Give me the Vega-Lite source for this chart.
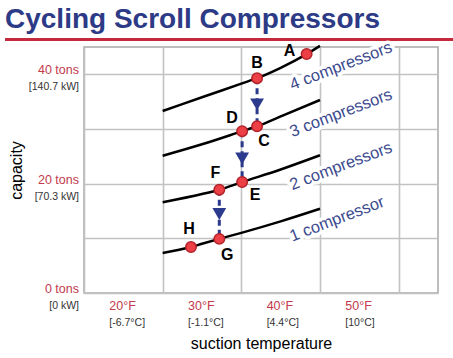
{
  "$schema": "https://vega.github.io/schema/vega-lite/v6.json",
  "width": 354,
  "height": 246,
  "autosize": "none",
  "padding": {"left": 84, "top": 47, "right": 15, "bottom": 65},
  "background": "white",
  "title": {"text": "Cycling Scroll Compressors", "anchor": "start", "frame": "group", "dx": -79, "dy": 29, "offset": 11, "baseline": "alphabetic", "fontSize": 28, "font": "Liberation Sans", "fontWeight": "bold", "color": "#2d3a86"},
  "config": {"view": {"stroke": "#a8a8a8", "strokeWidth": 1.5}},
  "datasets": {
    "curves": [
      {"series": "4", "temp": 25, "tons": 33.3}, {"series": "4", "temp": 30, "tons": 35.8}, {"series": "4", "temp": 35, "tons": 38.3}, {"series": "4", "temp": 37, "tons": 39.3}, {"series": "4", "temp": 40, "tons": 41.2}, {"series": "4", "temp": 43.3, "tons": 43.7}, {"series": "4", "temp": 45, "tons": 45.2},
      {"series": "3", "temp": 25, "tons": 25.1}, {"series": "3", "temp": 30, "tons": 27.2}, {"series": "3", "temp": 35.1, "tons": 29.6}, {"series": "3", "temp": 37, "tons": 30.5}, {"series": "3", "temp": 40, "tons": 32.3}, {"series": "3", "temp": 45, "tons": 35.3},
      {"series": "2", "temp": 25, "tons": 16.6}, {"series": "2", "temp": 30, "tons": 18.1}, {"series": "2", "temp": 32.2, "tons": 18.9}, {"series": "2", "temp": 35.1, "tons": 20.3}, {"series": "2", "temp": 40, "tons": 22.6}, {"series": "2", "temp": 45, "tons": 25.2},
      {"series": "1", "temp": 25, "tons": 7.3}, {"series": "1", "temp": 28.6, "tons": 8.4}, {"series": "1", "temp": 30, "tons": 9.0}, {"series": "1", "temp": 32.2, "tons": 9.9}, {"series": "1", "temp": 35, "tons": 11.0}, {"series": "1", "temp": 40, "tons": 13.1}, {"series": "1", "temp": 45, "tons": 15.4}
    ],
    "points": [
      {"label": "A", "temp": 43.3, "tons": 43.7},
      {"label": "B", "temp": 37, "tons": 39.3},
      {"label": "C", "temp": 37, "tons": 30.5},
      {"label": "D", "temp": 35.1, "tons": 29.6},
      {"label": "E", "temp": 35.1, "tons": 20.3},
      {"label": "F", "temp": 32.2, "tons": 18.9},
      {"label": "G", "temp": 32.2, "tons": 9.9},
      {"label": "H", "temp": 28.6, "tons": 8.4}
    ],
    "arrows": [
      {"temp": 37, "from": 39.3, "to": 30.5, "tri": 34.5},
      {"temp": 35.1, "from": 29.6, "to": 20.3, "tri": 24.6},
      {"temp": 32.2, "from": 18.9, "to": 9.9, "tri": 14.45}
    ],
    "names": [
      {"text": "4 compressors", "temp": 47.67, "tons": 41.5},
      {"text": "3 compressors", "temp": 47.67, "tons": 32.9},
      {"text": "2 compressors", "temp": 47.67, "tons": 23.2},
      {"text": "1 compressor", "temp": 47.16, "tons": 13.5}
    ],
    "ylabels": [
      {"tons": 0, "a": "0 tons", "b": "[0 kW]"},
      {"tons": 20, "a": "20 tons", "b": "[70.3 kW]"},
      {"tons": 40, "a": "40 tons", "b": "[140.7 kW]"}
    ],
    "xlabels": [
      {"temp": 20, "a": "20°F", "b": "[-6.7°C]"},
      {"temp": 30, "a": "30°F", "b": "[-1.1°C]"},
      {"temp": 40, "a": "40°F", "b": "[4.4°C]"},
      {"temp": 50, "a": "50°F", "b": "[10°C]"}
    ],
    "one": [{"x1": 4.96, "x2": 62, "y": 46.37}]
  },
  "layer": [
    {
      "data": {"name": "curves"},
      "mark": {"type": "line", "color": "black", "strokeWidth": 2.5, "interpolate": "monotone"},
      "encoding": {
        "x": {"field": "temp", "type": "quantitative", "scale": {"domain": [15, 60], "nice": false, "zero": false},
          "axis": {"values": [15, 20, 25, 30, 35, 40, 45, 50, 55, 60], "grid": true, "gridColor": "#c2c2c2", "gridWidth": 1.6, "labels": false, "ticks": false, "domain": false,
            "title": "suction temperature", "titleFont": "Liberation Sans", "titleFontSize": 16, "titleFontWeight": "normal", "titleColor": "black", "titleX": 177, "titleY": 50, "titleAlign": "center", "titleBaseline": "middle"}},
        "y": {"field": "tons", "type": "quantitative", "scale": {"domain": [0, 45], "nice": false},
          "axis": {"values": [0, 5, 10, 15, 20, 25, 30, 35, 40, 45], "grid": true, "gridColor": "#c2c2c2", "gridWidth": 1.6, "labels": false, "ticks": false, "domain": false,
            "title": "capacity", "titleFont": "Liberation Sans", "titleFontSize": 16, "titleFontWeight": "normal", "titleColor": "black", "titleX": -68, "titleY": 123, "titleAngle": -90, "titleAlign": "center", "titleBaseline": "middle"}},
        "detail": {"field": "series"}
      }
    },
    {
      "data": {"name": "one"},
      "mark": {"type": "rule", "color": "#c42a3c", "strokeWidth": 3},
      "encoding": {"x": {"field": "x1", "type": "quantitative"}, "x2": {"field": "x2"}, "y": {"field": "y", "type": "quantitative"}}
    },
    {
      "data": {"name": "arrows"},
      "mark": {"type": "rule", "color": "#2b3a8c", "strokeWidth": 3, "strokeDash": [6, 4]},
      "encoding": {"x": {"field": "temp", "type": "quantitative"}, "y": {"field": "from", "type": "quantitative"}, "y2": {"field": "to"}}
    },
    {
      "data": {"name": "arrows"},
      "mark": {"type": "point", "shape": "triangle-down", "filled": true, "color": "#2b3a8c", "size": 190, "opacity": 1},
      "encoding": {"x": {"field": "temp", "type": "quantitative"}, "y": {"field": "tri", "type": "quantitative"}}
    },
    {
      "data": {"name": "points"},
      "mark": {"type": "circle", "fill": "#ec3f46", "stroke": "#b3232a", "strokeWidth": 1.5, "size": 110, "opacity": 1},
      "encoding": {"x": {"field": "temp", "type": "quantitative"}, "y": {"field": "tons", "type": "quantitative"}}
    },
    {"data": {"name": "points"}, "transform": [{"filter": "datum.label == 'A'"}], "mark": {"type": "text", "font": "Liberation Sans", "fontWeight": "bold", "fontSize": 16, "color": "black", "baseline": "middle", "dx": -17, "dy": -3}, "encoding": {"x": {"field": "temp", "type": "quantitative"}, "y": {"field": "tons", "type": "quantitative"}, "text": {"field": "label"}}},
    {"data": {"name": "points"}, "transform": [{"filter": "datum.label == 'B'"}], "mark": {"type": "text", "font": "Liberation Sans", "fontWeight": "bold", "fontSize": 16, "color": "black", "baseline": "middle", "dx": 0, "dy": -15}, "encoding": {"x": {"field": "temp", "type": "quantitative"}, "y": {"field": "tons", "type": "quantitative"}, "text": {"field": "label"}}},
    {"data": {"name": "points"}, "transform": [{"filter": "datum.label == 'C'"}], "mark": {"type": "text", "font": "Liberation Sans", "fontWeight": "bold", "fontSize": 16, "color": "black", "baseline": "middle", "dx": 7, "dy": 15}, "encoding": {"x": {"field": "temp", "type": "quantitative"}, "y": {"field": "tons", "type": "quantitative"}, "text": {"field": "label"}}},
    {"data": {"name": "points"}, "transform": [{"filter": "datum.label == 'D'"}], "mark": {"type": "text", "font": "Liberation Sans", "fontWeight": "bold", "fontSize": 16, "color": "black", "baseline": "middle", "dx": -10, "dy": -13}, "encoding": {"x": {"field": "temp", "type": "quantitative"}, "y": {"field": "tons", "type": "quantitative"}, "text": {"field": "label"}}},
    {"data": {"name": "points"}, "transform": [{"filter": "datum.label == 'E'"}], "mark": {"type": "text", "font": "Liberation Sans", "fontWeight": "bold", "fontSize": 16, "color": "black", "baseline": "middle", "dx": 13, "dy": 13}, "encoding": {"x": {"field": "temp", "type": "quantitative"}, "y": {"field": "tons", "type": "quantitative"}, "text": {"field": "label"}}},
    {"data": {"name": "points"}, "transform": [{"filter": "datum.label == 'F'"}], "mark": {"type": "text", "font": "Liberation Sans", "fontWeight": "bold", "fontSize": 16, "color": "black", "baseline": "middle", "dx": -4, "dy": -17}, "encoding": {"x": {"field": "temp", "type": "quantitative"}, "y": {"field": "tons", "type": "quantitative"}, "text": {"field": "label"}}},
    {"data": {"name": "points"}, "transform": [{"filter": "datum.label == 'G'"}], "mark": {"type": "text", "font": "Liberation Sans", "fontWeight": "bold", "fontSize": 16, "color": "black", "baseline": "middle", "dx": 8, "dy": 16}, "encoding": {"x": {"field": "temp", "type": "quantitative"}, "y": {"field": "tons", "type": "quantitative"}, "text": {"field": "label"}}},
    {"data": {"name": "points"}, "transform": [{"filter": "datum.label == 'H'"}], "mark": {"type": "text", "font": "Liberation Sans", "fontWeight": "bold", "fontSize": 16, "color": "black", "baseline": "middle", "dx": -2, "dy": -18}, "encoding": {"x": {"field": "temp", "type": "quantitative"}, "y": {"field": "tons", "type": "quantitative"}, "text": {"field": "label"}}},
    {
      "data": {"name": "names"},
      "mark": {"type": "text", "font": "Liberation Sans", "fontSize": 16.5, "angle": 339, "align": "center", "baseline": "middle", "fill": "white", "stroke": "white", "strokeWidth": 7, "strokeJoin": "round"},
      "encoding": {"x": {"field": "temp", "type": "quantitative"}, "y": {"field": "tons", "type": "quantitative"}, "text": {"field": "text"}}
    },
    {
      "data": {"name": "names"},
      "mark": {"type": "text", "font": "Liberation Sans", "fontSize": 16.5, "angle": 339, "align": "center", "baseline": "middle", "color": "#3b4a8e"},
      "encoding": {"x": {"field": "temp", "type": "quantitative"}, "y": {"field": "tons", "type": "quantitative"}, "text": {"field": "text"}}
    },
    {
      "data": {"name": "ylabels"},
      "mark": {"type": "text", "font": "Liberation Sans", "fontSize": 12.5, "color": "#c23a4c", "align": "right", "baseline": "middle", "dx": -5, "dy": -4},
      "encoding": {"x": {"datum": 15}, "y": {"field": "tons", "type": "quantitative"}, "text": {"field": "a"}}
    },
    {
      "data": {"name": "ylabels"},
      "mark": {"type": "text", "font": "Liberation Sans", "fontSize": 10.5, "color": "#333333", "align": "right", "baseline": "middle", "dx": -5, "dy": 13},
      "encoding": {"x": {"datum": 15}, "y": {"field": "tons", "type": "quantitative"}, "text": {"field": "b"}}
    },
    {
      "data": {"name": "xlabels"},
      "mark": {"type": "text", "font": "Liberation Sans", "fontSize": 12.5, "color": "#c23a4c", "align": "left", "baseline": "middle", "dx": -14, "dy": 13},
      "encoding": {"x": {"field": "temp", "type": "quantitative"}, "y": {"datum": 0}, "text": {"field": "a"}}
    },
    {
      "data": {"name": "xlabels"},
      "mark": {"type": "text", "font": "Liberation Sans", "fontSize": 10.5, "color": "#333333", "align": "left", "baseline": "middle", "dx": -14, "dy": 30},
      "encoding": {"x": {"field": "temp", "type": "quantitative"}, "y": {"datum": 0}, "text": {"field": "b"}}
    }
  ]
}
